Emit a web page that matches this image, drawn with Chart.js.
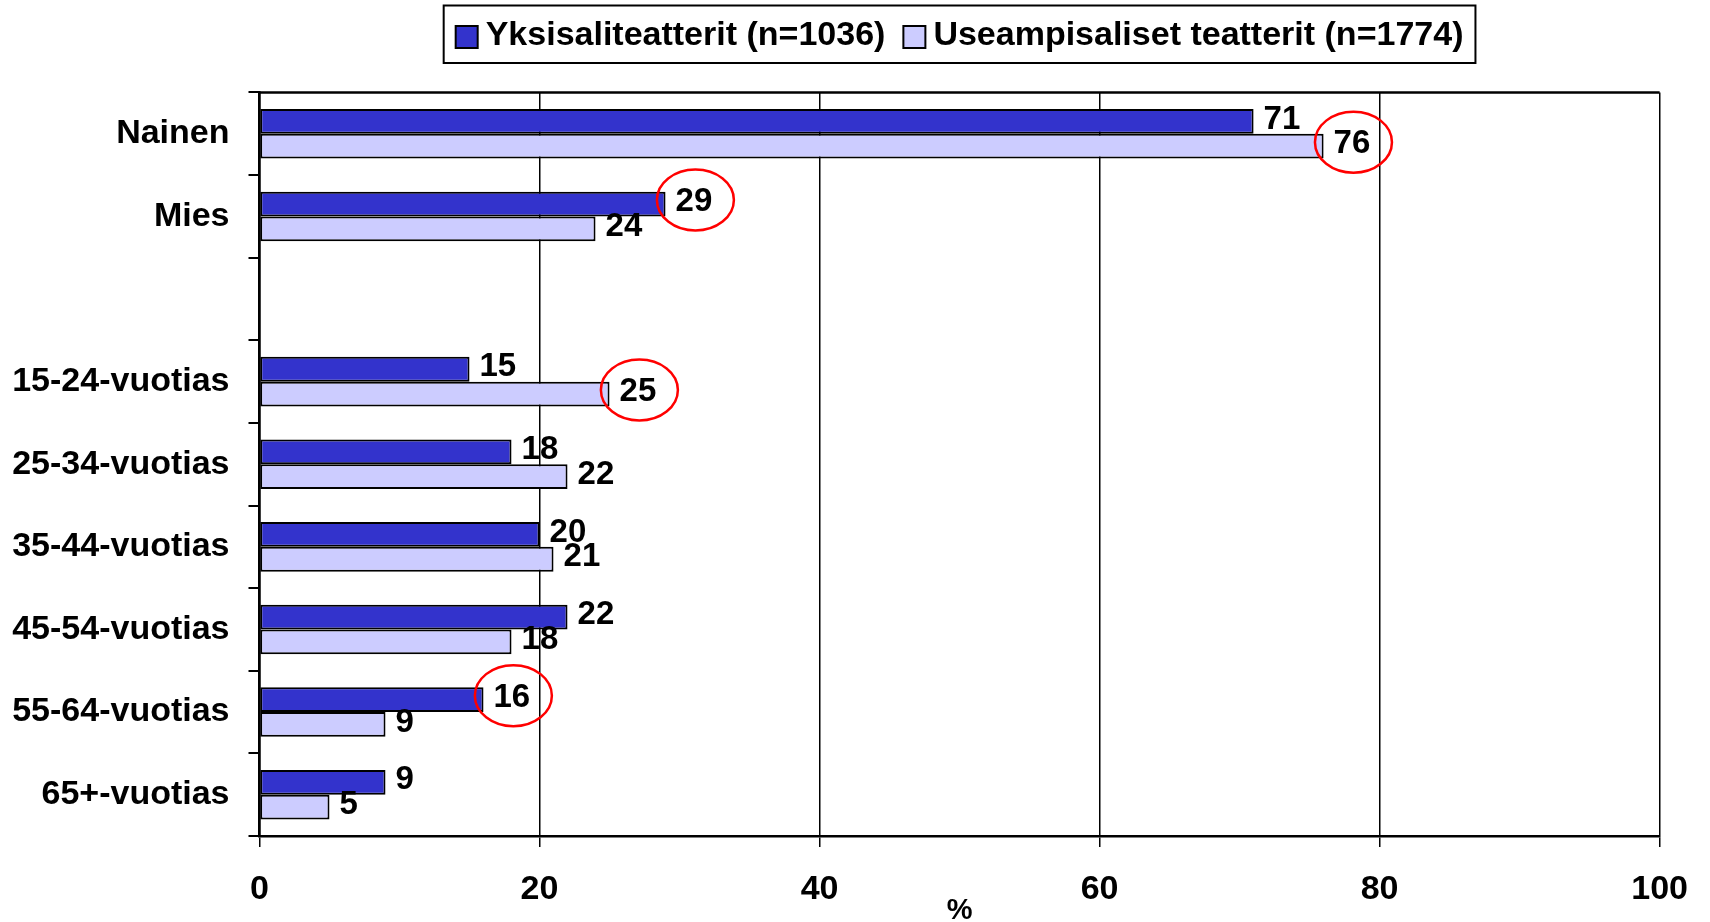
<!DOCTYPE html>
<html>
<head>
<meta charset="utf-8">
<script src="https://cdn.jsdelivr.net/npm/chart.js@4.4.1/dist/chart.umd.min.js"></script>
<style>
  html, body { margin: 0; padding: 0; background: #fff; }
  #wrap { width: 1710px; height: 922px; position: relative; }
</style>
</head>
<body>
<div id="wrap"><canvas id="c"></canvas></div>
<script>
// ---- data ----
const categories = ["Nainen", "Mies", "", "15-24-vuotias", "25-34-vuotias", "35-44-vuotias", "45-54-vuotias", "55-64-vuotias", "65+-vuotias"];
const seriesNames = ["Yksisaliteatterit (n=1036)", "Useampisaliset teatterit (n=1774)"];
const singleScreen = [71, 29, null, 15, 18, 20, 22, 16, 9];
const multiScreen = [76, 24, null, 25, 22, 21, 18, 9, 5];
const xTicks = [0, 20, 40, 60, 80, 100];
// highlighted labels: [datasetIndex, categoryIndex]
const highlights = [[1, 0], [0, 1], [1, 3], [0, 7]];

const FONT = "'Liberation Sans', Arial, sans-serif";

const valueLabels = {
  id: 'valueLabels',
  afterDatasetsDraw(chart) {
    const ctx = chart.ctx;
    ctx.save();
    ctx.font = 'bold 33px ' + FONT;
    ctx.fillStyle = '#000';
    ctx.textAlign = 'left';
    ctx.textBaseline = 'middle';
    const centers = {};
    chart.data.datasets.forEach((ds, di) => {
      const meta = chart.getDatasetMeta(di);
      meta.data.forEach((bar, i) => {
        const v = ds.data[i];
        if (v === null || v === undefined) return;
        const x = bar.x + 10;
        const y = bar.y - 2;
        ctx.fillText(String(v), x, y);
        const w = ctx.measureText(String(v)).width;
        centers[di + '_' + i] = [x + w / 2, y];
      });
    });
    ctx.strokeStyle = '#f00';
    ctx.lineWidth = 2.5;
    highlights.forEach(([di, i]) => {
      const c = centers[di + '_' + i];
      if (!c) return;
      ctx.beginPath();
      ctx.ellipse(c[0] + 1.5, c[1] - 2, 38.5, 30.5, 0, 0, Math.PI * 2);
      ctx.stroke();
    });
    ctx.restore();
  }
};

// framed legend + top border of the plot area
const frames = {
  id: 'frames',
  afterDraw(chart) {
    const ctx = chart.ctx;
    const a = chart.chartArea;
    ctx.save();
    ctx.strokeStyle = '#000';
    ctx.lineWidth = 2.5;
    ctx.beginPath();
    ctx.moveTo(a.left, a.top);
    ctx.lineTo(a.right, a.top);
    ctx.stroke();

    const box = 22, gapText = 8, gapItem = 18;
    ctx.font = 'bold 34px ' + FONT;
    const items = chart.data.datasets.map(ds => ({ text: ds.label, fill: ds.backgroundColor, w: ctx.measureText(ds.label).width }));
    let total = 0;
    items.forEach((it, k) => { total += box + gapText + it.w + (k ? gapItem : 0); });
    let x = (a.left + a.right) / 2 - total / 2;
    const cy = 36;
    const startX = x;
    ctx.lineWidth = 2;
    items.forEach((it, k) => {
      if (k) x += gapItem;
      ctx.fillStyle = it.fill;
      ctx.fillRect(x, cy - 10, box, box);
      ctx.strokeRect(x, cy - 10, box, box);
      x += box + gapText;
      ctx.fillStyle = '#000';
      ctx.textAlign = 'left';
      ctx.textBaseline = 'middle';
      ctx.fillText(it.text, x, cy);
      x += it.w;
    });
    ctx.strokeRect(startX - 12, 5.5, (x + 12) - (startX - 12), 57.5);
    ctx.restore();
  }
};

new Chart(document.getElementById('c'), {
  type: 'bar',
  data: {
    labels: categories,
    datasets: [
      { label: seriesNames[0], data: singleScreen, xAxisID: 'x', yAxisID: 'y',
        backgroundColor: '#3333cc', borderColor: '#000', borderWidth: 2, borderSkipped: false },
      { label: seriesNames[1], data: multiScreen, xAxisID: 'x', yAxisID: 'y',
        backgroundColor: '#ccccff', borderColor: '#000', borderWidth: 2, borderSkipped: false }
    ]
  },
  options: {
    indexAxis: 'y',
    responsive: true,
    maintainAspectRatio: false,
    animation: false,
    devicePixelRatio: 1,
    layout: { padding: { top: 92.5, left: 0, right: 49, bottom: 0 } },
    datasets: { bar: { categoryPercentage: 0.6, barPercentage: 1 } },
    plugins: {
      tooltip: { enabled: false },
      legend: { display: false }
    },
    scales: {
      x: {
        type: 'linear',
        position: 'bottom',
        min: 0,
        max: 100,
        afterBuildTicks(scale) { scale.ticks = xTicks.map(v => ({ value: v })); },
        afterFit(scale) { scale.height = 86; },
        ticks: {
          color: '#000',
          font: { family: FONT, size: 34, weight: 'bold' },
          padding: 22,
          maxRotation: 0
        },
        grid: { color: '#000', lineWidth: 1.5, tickLength: 11, drawTicks: true, drawOnChartArea: true },
        border: { display: true, color: '#000', width: 2.5 },
        title: {
          display: true,
          text: '%',
          color: '#000',
          font: { family: FONT, size: 29, weight: 'bold' },
          padding: { top: 0, bottom: -6 }
        }
      },
      y: {
        type: 'category',
        position: 'left',
        offset: true,
        afterFit(scale) { scale.width = 259.5; },
        ticks: {
          color: '#000',
          font: { family: FONT, size: 34, weight: 'bold' },
          padding: 19
        },
        grid: { color: '#000', lineWidth: 2, tickLength: 11, drawTicks: true, drawOnChartArea: false, offset: true },
        border: { display: true, color: '#000', width: 2.5 }
      }
    }
  },
  plugins: [valueLabels, frames]
});
</script>
</body>
</html>
